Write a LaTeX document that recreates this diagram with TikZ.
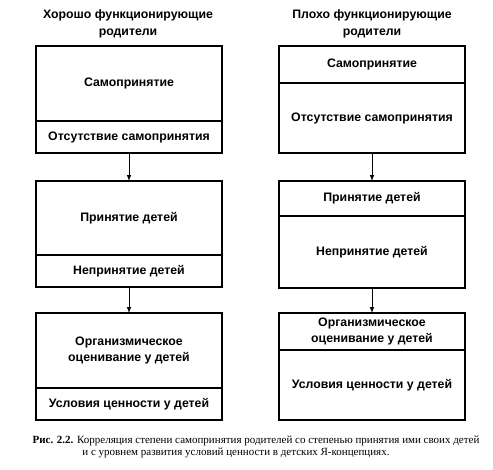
\documentclass[tikz,border=0pt]{standalone}
\usepackage{fontspec}
\setmainfont{Liberation Serif}
\newfontfamily\boxfont{Liberation Sans}
\usetikzlibrary{positioning}

\begin{document}
\begin{tikzpicture}[x=1pt,y=-1pt,>=latex,
    part/.style={draw,line width=1.1pt,minimum width=186pt,outer sep=0pt,inner sep=1pt,
        align=center,font=\boxfont\bfseries\fontsize{12.3}{16.5}\selectfont},
    heading/.style={align=center,font=\boxfont\bfseries\fontsize{12.3}{16.5}\selectfont},
    link/.style={->,line width=1pt}]
    \useasboundingbox (0,0) rectangle (493,469);
    % left column
    \node[heading] (goodTitle) at (128,24) {Хорошо функционирующие\\родители};
    \node[part,minimum height=75pt,anchor=north] (goodSelf) at (129,46) {Самопринятие};
    \node[part,minimum height=32pt,below=0pt of goodSelf] (goodNoSelf) {Отсутствие самопринятия};
    \node[part,minimum height=74pt,anchor=north] (goodAcc) at (129,181) {Принятие детей};
    \node[part,minimum height=32pt,below=0pt of goodAcc] (goodNoAcc) {Непринятие детей};
    \node[part,minimum height=75pt,anchor=north] (goodOrg) at (129,313) {Организмическое\\оценивание у детей};
    \node[part,minimum height=32pt,below=0pt of goodOrg] (goodCond) {Условия ценности у детей};
    \draw[link] (goodNoSelf) -- (goodAcc);
    \draw[link] (goodNoAcc) -- (goodOrg);
    % right column
    \node[heading] (poorTitle) at (372,24) {Плохо функционирующие\\родители};
    \node[part,minimum height=37pt,anchor=north] (poorSelf) at (372,46) {Самопринятие};
    \node[part,minimum height=70pt,below=0pt of poorSelf] (poorNoSelf) {Отсутствие самопринятия};
    \node[part,minimum height=35pt,anchor=north] (poorAcc) at (372,181) {Принятие детей};
    \node[part,minimum height=72pt,below=0pt of poorAcc] (poorNoAcc) {Непринятие детей};
    \node[part,minimum height=37pt,anchor=north] (poorOrg) at (372,313) {Организмическое\\оценивание у детей};
    \node[part,minimum height=70pt,below=0pt of poorOrg] (poorCond) {Условия ценности у детей};
    \draw[link] (poorNoSelf) -- (poorAcc);
    \draw[link] (poorNoAcc) -- (poorOrg);
    % caption
    \node[align=center,font=\fontsize{11}{12.5}\selectfont] (caption) at (256,447)
        {\textbf{Рис. 2.2.} Корреляция степени самопринятия родителей со степенью принятия ими своих детей\\
        и с уровнем развития условий ценности в детских Я-концепциях.\hspace*{40pt}};
\end{tikzpicture}
\end{document}
